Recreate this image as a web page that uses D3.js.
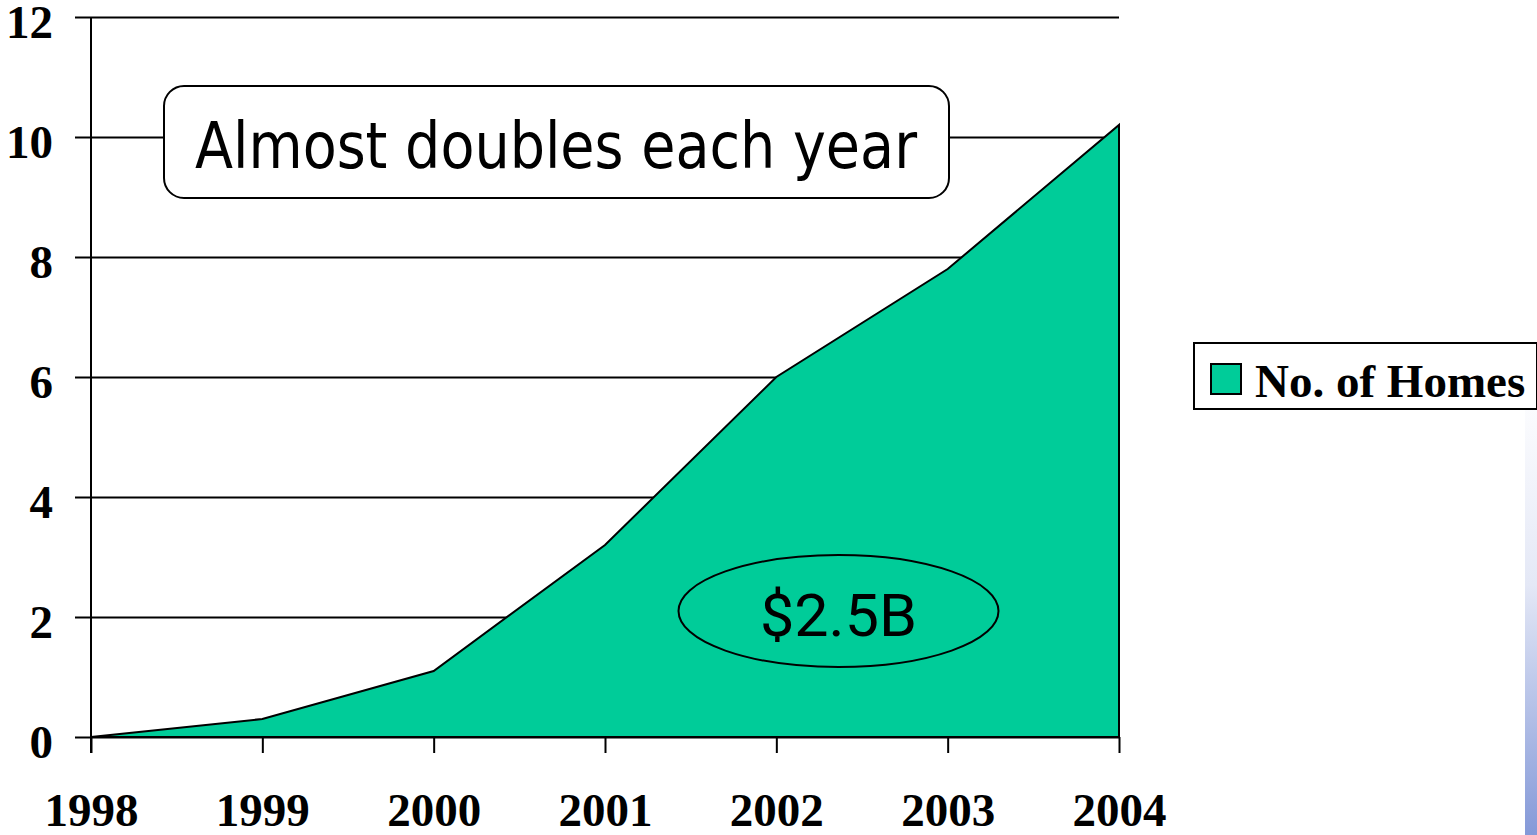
<!DOCTYPE html>
<html>
<head>
<meta charset="utf-8">
<script src="https://cdn.jsdelivr.net/npm/d3@7"></script>
<style>
  html, body { margin: 0; padding: 0; background: #fff; overflow: hidden; }
  svg { display: block; }
</style>
</head>
<body>
<svg id="chart" width="1537" height="835"></svg>
<script>
// Number of homes (millions) by year
const years = [1998, 1999, 2000, 2001, 2002, 2003, 2004];
const homes = [0, 0.3, 1.1, 3.2, 6.0, 7.8, 10.2];
const yTicks = [0, 2, 4, 6, 8, 10, 12];
const seriesName = "No. of Homes";
const headline = "Almost doubles each year";
const revenueLabel = "$2.5B";

const svg = d3.select("#chart");
const W = 1537, H = 835;
const plotLeft = 91, plotRight = 1119, plotTop = 17, plotBottom = 737;

const x = d3.scalePoint().domain(years).range([plotLeft, plotRight]);
const y = d3.scaleLinear().domain([0, 12]).range([plotBottom, plotTop]);

const defs = svg.append("defs");
const grad = defs.append("linearGradient").attr("id", "edge").attr("x1", 0).attr("y1", 0).attr("x2", 0).attr("y2", 1);
grad.append("stop").attr("offset", "0").attr("stop-color", "#ffffff");
grad.append("stop").attr("offset", "0.45").attr("stop-color", "#e4e8f6");
grad.append("stop").attr("offset", "1").attr("stop-color", "#8499d8");

// decorative strip on the right edge
svg.append("rect").attr("x", 1525).attr("y", 380).attr("width", 12).attr("height", H - 380).attr("fill", "url(#edge)");

// horizontal gridlines with left ticks
const yAxis = d3.axisLeft(y).tickValues(yTicks).tickSize(-(plotRight - plotLeft)).tickSizeOuter(0);
const gy = svg.append("g").attr("transform", `translate(${plotLeft},0)`).call(yAxis);
gy.select(".domain").remove();
gy.selectAll(".tick line").attr("x1", -16).attr("stroke", "#000").attr("stroke-width", 2);
gy.selectAll(".tick text")
  .attr("font-family", "'Liberation Serif', 'Times New Roman', serif")
  .attr("font-weight", "bold").attr("font-size", 47).attr("fill", "#000")
  .attr("x", -38).attr("dy", "20px");

// area series
const area = d3.area().x((d, i) => x(years[i])).y0(y(0)).y1(d => y(d));
svg.append("path").datum(homes).attr("d", area)
  .attr("fill", "#00cc99").attr("stroke", "#000").attr("stroke-width", 2).attr("stroke-linejoin", "miter");

// x axis with ticks extending below baseline
const xAxis = d3.axisBottom(x).tickSize(16).tickSizeOuter(0).tickPadding(40);
const gx = svg.append("g").attr("transform", `translate(0,${plotBottom})`).call(xAxis);
gx.select(".domain").attr("stroke", "#000").attr("stroke-width", 2).attr("d", `M${plotLeft},0H${plotRight}`);
gx.selectAll(".tick line").attr("stroke", "#000").attr("stroke-width", 2);
gx.selectAll(".tick text")
  .attr("font-family", "'Liberation Serif', 'Times New Roman', serif")
  .attr("font-weight", "bold").attr("font-size", 47).attr("fill", "#000");

// vertical axis line
svg.append("line").attr("x1", plotLeft).attr("x2", plotLeft).attr("y1", plotTop).attr("y2", plotBottom + 16)
  .attr("stroke", "#000").attr("stroke-width", 2);

// headline callout
svg.append("rect").attr("x", 164).attr("y", 86).attr("width", 785).attr("height", 112)
  .attr("rx", 20).attr("ry", 20).attr("fill", "#fff").attr("stroke", "#000").attr("stroke-width", 2);
svg.append("text").attr("x", 195).attr("y", 168).text(headline)
  .attr("font-family", "'DejaVu Sans', Verdana, sans-serif").attr("font-size", 64)
  .attr("textLength", 722).attr("lengthAdjust", "spacingAndGlyphs").attr("fill", "#000");

// revenue ellipse
svg.append("ellipse").attr("cx", 838.5).attr("cy", 611).attr("rx", 160).attr("ry", 56)
  .attr("fill", "none").attr("stroke", "#000").attr("stroke-width", 2);
svg.append("text").attr("x", 838.5).attr("y", 636).attr("text-anchor", "middle").text(revenueLabel)
  .attr("font-family", "Roboto, sans-serif").attr("font-weight", 400).attr("font-size", 60)
  .attr("textLength", 157).attr("lengthAdjust", "spacingAndGlyphs").attr("fill", "#000");

// legend
const lg = svg.append("g");
lg.append("rect").attr("x", 1194).attr("y", 343).attr("width", 343).attr("height", 66)
  .attr("fill", "#fff").attr("stroke", "#000").attr("stroke-width", 2);
lg.append("rect").attr("x", 1211).attr("y", 364).attr("width", 30).attr("height", 30)
  .attr("fill", "#00cc99").attr("stroke", "#000").attr("stroke-width", 2);
lg.append("text").attr("x", 1255).attr("y", 397).text(seriesName)
  .attr("font-family", "'Liberation Serif', 'Times New Roman', serif")
  .attr("font-weight", "bold").attr("font-size", 47).attr("fill", "#000");
</script>
</body>
</html>
